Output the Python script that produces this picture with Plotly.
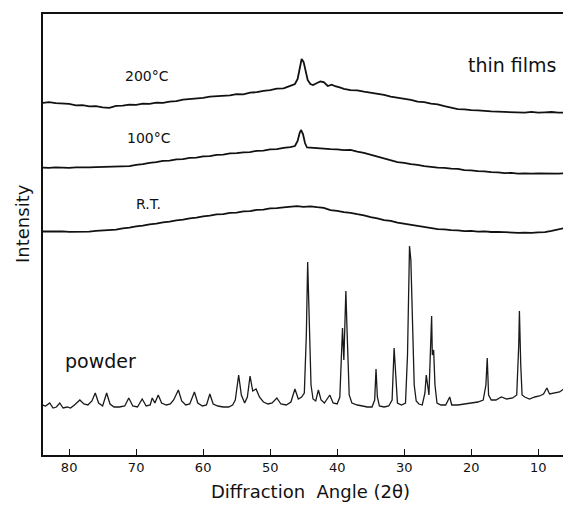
import plotly.graph_objects as go

# ---------------- data (intensity in arbitrary units) ----------------
powder_angle = [84.0, 83.5, 82.9, 82.4, 81.9, 81.4, 80.9, 80.3, 79.8, 79.2, 78.4, 77.8, 77.2, 76.6,
                76.1, 75.6, 75.0, 74.4, 73.9, 73.3, 72.5, 71.7, 71.1, 70.5, 69.8, 69.1, 68.5, 67.9,
                67.6, 67.2, 66.7, 66.2, 65.5, 64.9, 64.4, 63.7, 63.2, 62.6, 62.0, 61.3, 60.8, 60.1,
                59.5, 59.0, 58.5, 57.8, 57.0, 56.2, 55.6, 55.2, 54.7, 54.3, 53.8, 53.4, 53.0, 52.6,
                52.1, 51.6, 51.0, 50.3, 49.7, 49.0, 48.4, 47.6, 46.9, 46.3, 45.8, 45.3, 44.9, 44.6,
                44.4, 44.2, 43.9, 43.6, 43.2, 42.8, 42.4, 41.9, 41.1, 40.6, 40.0, 39.6, 39.35, 39.2,
                39.0, 38.9, 38.7, 38.5, 38.2, 37.8, 37.0, 36.2, 35.5, 34.8, 34.4, 34.2, 34.0, 33.7,
                33.0, 32.3, 31.8, 31.5, 31.3, 31.0, 30.4, 29.8, 29.5, 29.3, 29.2, 29.0, 28.8, 28.5,
                28.2, 27.8, 27.3, 26.9, 26.7, 26.5, 26.3, 26.1, 25.9, 25.8, 25.6, 25.4, 25.1, 24.5,
                23.8, 23.2, 22.9, 22.0, 21.0, 20.0, 19.0, 18.2, 17.8, 17.6, 17.4, 17.0, 16.3, 15.5,
                14.7, 13.8, 13.2, 12.9, 12.8, 12.6, 12.4, 12.0, 11.3, 10.5, 9.8, 9.2, 8.7, 8.3,
                7.6, 6.8, 6.2, 5.6, 5.1]
powder_int = [50, 49, 52, 47, 48, 52, 47, 48, 47, 50, 55, 51, 50, 54,
              62, 52, 49, 62, 51, 48, 48, 49, 57, 49, 48, 56, 49, 50,
              57, 52, 60, 52, 50, 51, 55, 65, 54, 50, 51, 63, 52, 49,
              50, 61, 51, 49, 48, 48, 50, 55, 80, 60, 52, 58, 79, 64,
              66, 58, 53, 51, 52, 57, 51, 50, 53, 66, 56, 58, 62, 120,
              193, 150, 70, 56, 54, 65, 55, 52, 60, 52, 51, 58, 110, 127,
              95, 130, 164, 120, 60, 52, 50, 49, 48, 48, 55, 86, 58, 49,
              48, 49, 55, 107, 80, 52, 50, 52, 100, 190, 209, 195, 150, 70,
              54, 51, 50, 62, 80, 72, 60, 100, 139, 100, 105, 70, 52, 50,
              50, 58, 50, 50, 51, 52, 53, 55, 70, 97, 60, 55, 55, 58,
              56, 57, 60, 110, 144, 90, 60, 58, 56, 58, 59, 61, 67, 61,
              62, 63, 66, 70, 72]

film200_angle = [84, 83, 82, 81, 80, 79, 78, 77, 76, 75, 74, 73, 72, 71, 70, 69, 68, 67, 66, 65,
                 64, 63, 62, 61, 60, 59, 58, 57, 56, 55, 54, 53, 52, 51, 50, 49, 48, 47, 46.3, 45.9,
                 45.6, 45.3, 45.0, 44.7, 44.4, 44.0, 43.6, 43.0, 42.5, 42.0, 41.4, 40.8, 40.3, 39.5,
                 39, 38, 37, 36, 35, 34, 33, 32, 31, 30, 29, 28, 27, 26, 25, 24, 23, 22, 21, 20,
                 19, 18, 17, 16, 15, 14, 13, 12, 11, 10, 9, 8, 7, 6, 5.1]
film200_int = [352, 352.8, 351.8, 351.6, 351.2, 349.6, 349.8, 348.6, 348.9, 347.7, 347.2, 349.1, 349.3,
               350.4, 350.2, 351.3, 351.1, 352.4, 352.2, 353.4, 353.8, 355.3, 355.8, 356.9, 357.2,
               358.4, 358.8, 359.9, 359.7, 360.9, 360.7, 362.3, 362.8, 364.2, 364.8, 366.3, 366.7,
               369.2, 371, 376, 387, 396, 393, 383, 375, 371, 370, 372, 373.5, 373, 369, 370.4,
               368.8, 367.3, 366.2, 364.8, 364.7, 363.3, 362.3, 360.8, 360.2, 358.3, 357.3, 355.7,
               355.2, 353.3, 352.8, 351.3, 350.7, 348.8, 347.3, 345.8, 345.7, 344.8, 344.7, 343.8,
               343.6, 343.3, 343.2, 342.8, 343.2, 342.4, 343.1, 342.4, 342.7, 343, 342.3, 342.7, 342.5]

film100_angle = [84, 83, 82, 81, 80, 79, 78, 77, 76, 75, 74, 73, 72, 71, 70, 69, 68, 67, 66, 65,
                 64, 63, 62, 61, 60, 59, 58, 57, 56, 55, 54, 53, 52, 51, 50, 49, 48, 47, 46.3, 45.9,
                 45.6, 45.4, 45.1, 44.8, 44.5, 44, 43, 42, 41, 40, 39, 38, 37, 36, 35, 34, 33, 32,
                 31, 30, 29, 28, 27, 26, 25, 24, 23, 22, 21, 20, 19, 18, 17, 16, 15, 14, 13, 12,
                 11, 10, 9, 8, 7, 6, 5.1]
film100_int = [287.5, 287.1, 287.6, 287.3, 287.1, 287.6, 287.4, 287.6, 287.9, 288.2, 287.8, 288.1,
               288.6, 288.8, 290.2, 290.8, 292.2, 292.8, 294.2, 294.4, 295.7, 295.9, 297.2, 297.3,
               298.7, 298.9, 300.2, 300.3, 301.7, 301.8, 302.7, 302.9, 304.2, 304.3, 305.7, 305.8,
               307.2, 307.8, 309, 314, 322, 325, 321, 312, 307.5, 307.2, 306.8, 306.7, 305.8,
               305.7, 304.8, 305.2, 303.3, 302.2, 300.3, 298.7, 296.3, 294.7, 292.8, 292.2, 290.8,
               290.2, 288.8, 288.2, 287.3, 287.2, 286.3, 286.2, 284.8, 284.7, 283.8, 283.7, 282.8,
               282.7, 281.8, 282.2, 281.3, 281.7, 281.3, 281.7, 281.4, 281.6, 281.3, 281.7, 281.5]

filmRT_angle = [84, 83, 82, 81, 80, 79, 78, 77, 76, 75, 74, 73, 72, 71, 70, 69, 68, 67, 66, 65,
                64, 63, 62, 61, 60, 59, 58, 57, 56, 55, 54, 53, 52, 51, 50, 49, 48, 47, 46, 45,
                44, 43, 42, 41, 40, 39, 38, 37, 36, 35, 34, 33, 32, 31, 30, 29, 28, 27, 26, 25,
                24, 23, 22, 21, 20, 19, 18, 17, 16, 15, 14, 13, 12, 11, 10, 9, 8, 7, 6, 5.1]
filmRT_int = [223.5, 223.7, 223.2, 223.6, 223.2, 223.1, 223.6, 223.4, 224.2, 224.4, 225.2, 225.3,
              226.7, 227.3, 228.7, 229.3, 230.7, 231.3, 232.7, 233.3, 234.7, 235.3, 236.7, 237.3,
              238.7, 239.3, 240.7, 240.8, 242.2, 242.3, 243.7, 243.8, 245.2, 245.3, 246.7, 246.8,
              247.7, 248.1, 248.8, 248.2, 248.7, 247.8, 247.2, 244.8, 244.2, 242.8, 242.2, 240.8,
              239.7, 237.8, 236.7, 234.8, 234.2, 232.3, 231.2, 229.8, 229.2, 227.8, 227.2, 225.8,
              225.7, 224.8, 224.7, 223.8, 224.2, 223.3, 223.7, 223.0, 223.2, 222.8, 222.6, 222.2,
              222.4, 222.1, 222.6, 222.9, 224.1, 225.4, 227.1, 228.3]

x_ticks = [80, 70, 60, 50, 40, 30, 20, 10]

# ---------------- figure ----------------
fig = go.Figure()
line_style = dict(color="#111111", width=1.8)
fig.add_trace(go.Scatter(x=powder_angle, y=powder_int, mode="lines",
                         line=dict(color="#1a1a1a", width=1.3)))
fig.add_trace(go.Scatter(x=filmRT_angle, y=filmRT_int, mode="lines", line=line_style))
fig.add_trace(go.Scatter(x=film100_angle, y=film100_int, mode="lines", line=line_style))
fig.add_trace(go.Scatter(x=film200_angle, y=film200_int, mode="lines", line=line_style))

# page body has an 8px margin: place the figure so the plot lands on the reference pixels
OFF = 8
L, T, B, R = 43, 14, 455, 571          # plot-area edges in window pixels
W = R - L
H = B - T


def px(x):
    return (x - L) / W


def py(y):
    return (B - y) / H


font = "DejaVu Sans, Verdana, sans-serif"
annotations = [
    dict(text="thin films", x=px(512), y=py(65), size=19),
    dict(text="200°C", x=px(147), y=py(76), size=14),
    dict(text="100°C", x=px(149), y=py(138), size=14),
    dict(text="R.T.", x=px(148), y=py(204), size=14),
    dict(text="powder", x=px(100), y=py(361), size=19),
    dict(text="Diffraction&nbsp;&nbsp;Angle (2θ)", x=px(310), y=py(491), size=18),
]
ann = []
for a in annotations:
    ann.append(dict(text=a["text"], x=a["x"], y=a["y"], xref="paper", yref="paper",
                    showarrow=False, xanchor="center", yanchor="middle",
                    font=dict(family=font, size=a["size"], color="#111111")))
ann.append(dict(text="Intensity", x=px(22), y=py(224), xref="paper", yref="paper",
                showarrow=False, textangle=-90, xanchor="center", yanchor="middle",
                font=dict(family=font, size=18, color="#111111")))

fig.update_layout(
    width=571 - OFF, height=513 - OFF,
    margin=dict(l=L - OFF, r=0, t=T - OFF, b=513 - B),
    paper_bgcolor="white", plot_bgcolor="white",
    showlegend=False,
    annotations=ann,
    xaxis=dict(range=[83.9, 5.1], tickvals=x_ticks, ticks="inside", ticklen=6, tickwidth=1,
               tickcolor="#111111", showline=True, linecolor="#111111", linewidth=1.5,
               mirror=True, showgrid=False, zeroline=False,
               tickfont=dict(family=font, size=13, color="#111111")),
    yaxis=dict(range=[0, 441], showticklabels=False, ticks="", showline=True,
               linecolor="#111111", linewidth=1.5, mirror=False, showgrid=False,
               zeroline=False),
)

fig.write_html("out.html")
